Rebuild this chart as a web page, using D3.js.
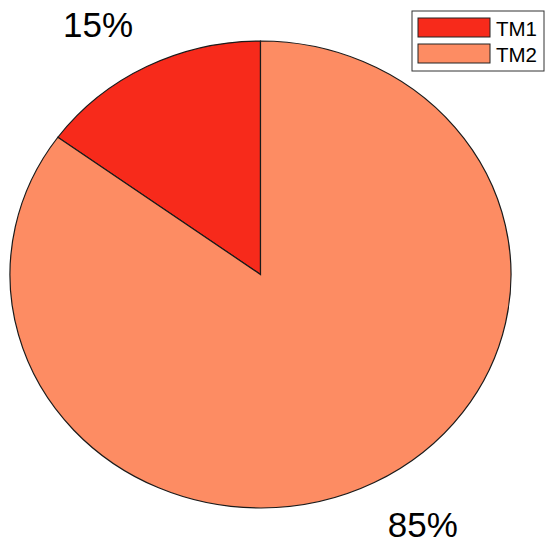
<!DOCTYPE html>
<html>
<head>
<meta charset="utf-8">
<script src="https://cdn.jsdelivr.net/npm/d3@7"></script>
<style>
  body { margin: 0; background: #fff; }
  text { font-family: "Liberation Sans", Arial, sans-serif; fill: #000; }
</style>
</head>
<body>
<svg width="550" height="545"></svg>
<script>
// pie data
var names = ['TM1', 'TM2'];
var values = [15, 85];
var colors = ['#f72a1b', '#fd8c63'];

var svg = d3.select('svg');

var cx = 260.5, cy = 274.5, rx = 250.5, ry = 233.5;

// counter-clockwise from 12 o'clock, like matlab
var pie = d3.pie().sort(null).startAngle(0).endAngle(-2 * Math.PI);
var arcs = pie(values);

var arc = d3.arc().innerRadius(0).outerRadius(rx);

var g = svg.append('g')
  .attr('transform', 'translate(' + cx + ',' + cy + ') scale(1,' + (ry / rx) + ')');

g.selectAll('path')
  .data(arcs)
  .enter()
  .append('path')
    .attr('d', arc)
    .attr('fill', function(d, i){ return colors[i]; })
    .attr('stroke', '#1a1a1a')
    .attr('stroke-width', 1.2)
    .attr('vector-effect', 'non-scaling-stroke');

// percent labels outside the slices
var total = d3.sum(values);
svg.selectAll('text.pct')
  .data(arcs)
  .enter()
  .append('text')
    .attr('class', 'pct')
    .attr('font-size', 35)
    .each(function(d){
      var a = (d.startAngle + d.endAngle) / 2;
      var x = Math.sin(a) * 1.12;
      var y = -Math.cos(a) * 1.14;
      d3.select(this)
        .attr('x', cx + x * rx)
        .attr('y', cy + y * ry)
        .attr('text-anchor', x < 0 ? 'end' : 'start')
        .attr('dy', y < 0 ? '0' : '0.72em');
    })
    .text(function(d){ return Math.round(d.value / total * 100) + '%'; });

// legend
var legend = svg.append('g').attr('transform', 'translate(412,11)');
legend.append('rect')
  .attr('width', 132).attr('height', 60)
  .attr('fill', '#fff').attr('stroke', '#333').attr('stroke-width', 1);

var item = legend.selectAll('g.item')
  .data(names)
  .enter()
  .append('g')
    .attr('class', 'item')
    .attr('transform', function(d, i){ return 'translate(6,' + (7 + i * 26) + ')'; });

item.append('rect')
  .attr('width', 72).attr('height', 19)
  .attr('fill', function(d, i){ return colors[i]; })
  .attr('stroke', '#222').attr('stroke-width', 1);

item.append('text')
  .attr('x', 78).attr('y', 17.5)
  .attr('font-size', 20.5)
  .text(function(d){ return d; });
</script>
</body>
</html>
